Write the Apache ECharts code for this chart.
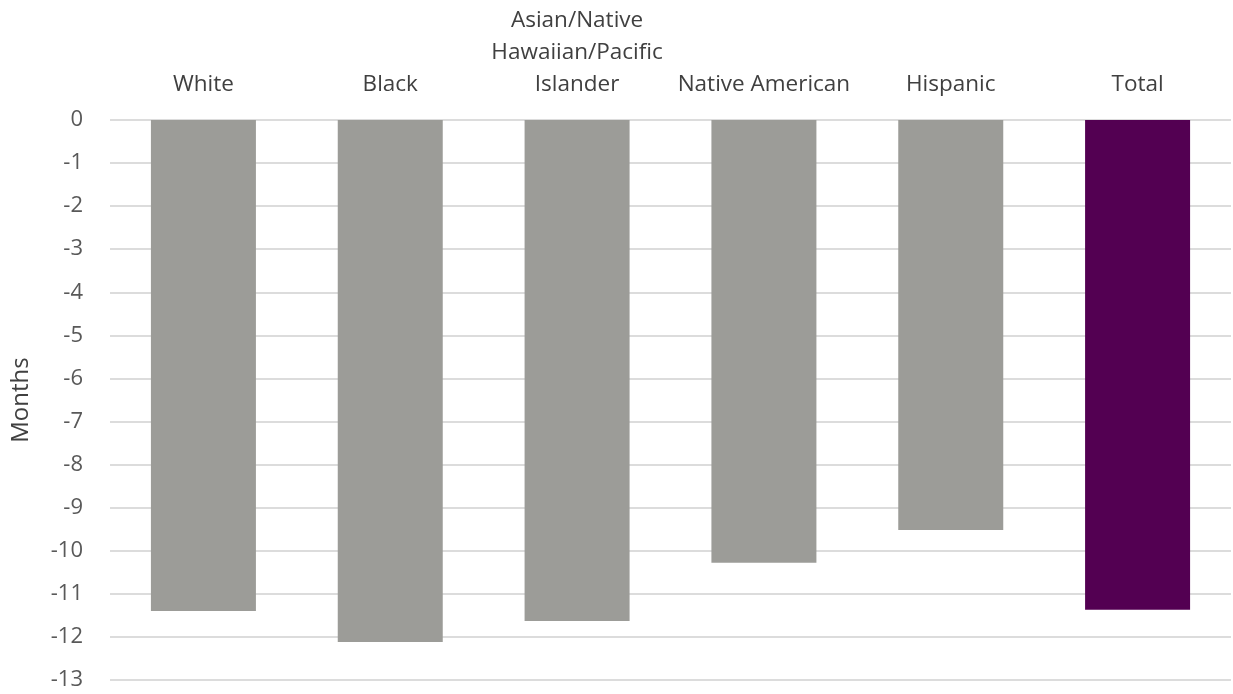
<!DOCTYPE html>
<html>
<head>
<meta charset="utf-8">
<script src="https://cdn.jsdelivr.net/npm/echarts@6/dist/echarts.min.js"></script>
<style>html,body{margin:0;padding:0;background:#fff;}#c{width:1233px;height:694px;}</style>
</head>
<body>
<div id="c"></div>
<script>
const categories = ['White', 'Black', 'Asian/Native\nHawaiian/Pacific\nIslander', 'Native American', 'Hispanic', 'Total'];
const values = [-11.40, -12.12, -11.63, -10.28, -9.52, -11.37];
const barColors = ['#9c9c98', '#9c9c98', '#9c9c98', '#9c9c98', '#9c9c98', '#530052'];
const yMin = -13, yMax = 0, yStep = 1;

const chart = echarts.init(document.getElementById('c'));
chart.setOption({
  animation: false,
  grid: { left: 110, right: 2, top: 120, bottom: 14, outerBoundsMode: 'none' },
  xAxis: {
    type: 'category',
    position: 'top',
    data: categories,
    axisLine: { show: false },
    axisTick: { show: false },
    axisLabel: { fontFamily: 'Open Sans', fontSize: 22.5, color: '#404040', margin: 19, lineHeight: 32, interval: 0 }
  },
  yAxis: {
    type: 'value',
    min: yMin, max: yMax, interval: yStep,
    name: 'Months',
    nameLocation: 'middle',
    nameGap: 77,
    nameRotate: 90,
    nameTextStyle: { fontFamily: 'Open Sans', fontSize: 24, color: '#404040' },
    axisLine: { show: false },
    axisTick: { show: false },
    axisLabel: { fontFamily: 'Open Sans', fontSize: 22, color: '#595959', margin: 27 },
    splitLine: { lineStyle: { color: '#dcdcdc', width: 2 } }
  },
  series: [{
    type: 'bar',
    barWidth: 105,
    data: values.map((v, i) => ({ value: v, itemStyle: { color: barColors[i] } }))
  }]
});
</script>
</body>
</html>
